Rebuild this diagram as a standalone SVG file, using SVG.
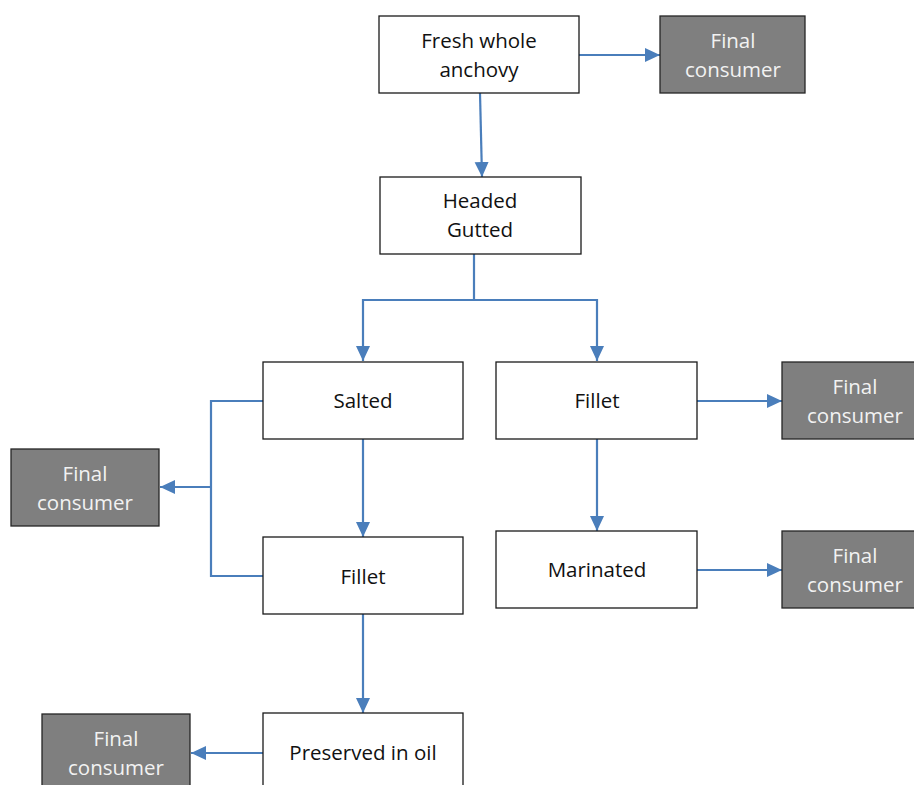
<svg xmlns="http://www.w3.org/2000/svg" width="914" height="785" viewBox="0 0 914 785">
<style>
.box{fill:#ffffff;stroke:#1a1a1a;stroke-width:1.3}
.fc{fill:#7f7f7f;stroke:#262626;stroke-width:1.3}
.t{font-family:"Open Sans","Liberation Sans",sans-serif;font-size:20.5px;fill:#111;text-anchor:middle}
.tw{font-family:"Open Sans","Liberation Sans",sans-serif;font-size:20.5px;fill:#f2f2f2;text-anchor:middle}
.c{fill:none;stroke:#4a7ebb;stroke-width:2.2}
</style>
<defs>
<marker id="ah" markerUnits="userSpaceOnUse" markerWidth="16" markerHeight="16" viewBox="0 0 16 16" refX="15" refY="8" orient="auto">
<path d="M0,1 L15,8 L0,15 Z" fill="#4a7ebb"/>
</marker>
</defs>
<rect width="914" height="785" fill="#ffffff"/>
<g id="connectors">
<line class="c" x1="579" y1="55" x2="660" y2="55" marker-end="url(#ah)"/>
<line class="c" x1="480" y1="93" x2="482" y2="177" marker-end="url(#ah)"/>
<polyline class="c" points="474,254 474,300 363,300 363,361" marker-end="url(#ah)"/>
<polyline class="c" points="474,300 597,300 597,361" marker-end="url(#ah)"/>
<line class="c" x1="363" y1="439" x2="363" y2="537" marker-end="url(#ah)"/>
<polyline class="c" points="263,401 211,401 211,576 263,576"/>
<line class="c" x1="211" y1="487" x2="160" y2="487" marker-end="url(#ah)"/>
<line class="c" x1="697" y1="401" x2="782" y2="401" marker-end="url(#ah)"/>
<line class="c" x1="597" y1="439" x2="597" y2="531" marker-end="url(#ah)"/>
<line class="c" x1="697" y1="570" x2="782" y2="570" marker-end="url(#ah)"/>
<line class="c" x1="363" y1="614" x2="363" y2="713" marker-end="url(#ah)"/>
<line class="c" x1="263" y1="753" x2="191" y2="753" marker-end="url(#ah)"/>
</g>
<g id="fresh">
<rect class="box" x="379" y="16" width="200" height="77"/>
<text class="t" x="479" y="48">Fresh whole</text>
<text class="t" x="479" y="77">anchovy</text>
</g>
<g id="fc1">
<rect class="fc" x="660" y="16" width="145" height="77"/>
<text class="tw" x="733" y="48">Final</text>
<text class="tw" x="733" y="77">consumer</text>
</g>
<g id="headed">
<rect class="box" x="380" y="177" width="201" height="77"/>
<text class="t" x="480" y="208">Headed</text>
<text class="t" x="480" y="237">Gutted</text>
</g>
<g id="salted">
<rect class="box" x="263" y="362" width="200" height="77"/>
<text class="t" x="363" y="408">Salted</text>
</g>
<g id="fillet1">
<rect class="box" x="496" y="362" width="201" height="77"/>
<text class="t" x="597" y="408">Fillet</text>
</g>
<g id="fc2">
<rect class="fc" x="782" y="362" width="145" height="77"/>
<text class="tw" x="855" y="394">Final</text>
<text class="tw" x="855" y="423">consumer</text>
</g>
<g id="fc3">
<rect class="fc" x="11" y="449" width="148" height="77"/>
<text class="tw" x="85" y="481">Final</text>
<text class="tw" x="85" y="510">consumer</text>
</g>
<g id="fillet2">
<rect class="box" x="263" y="537" width="200" height="77"/>
<text class="t" x="363" y="584">Fillet</text>
</g>
<g id="marinated">
<rect class="box" x="496" y="531" width="201" height="77"/>
<text class="t" x="597" y="577">Marinated</text>
</g>
<g id="fc4">
<rect class="fc" x="782" y="531" width="145" height="77"/>
<text class="tw" x="855" y="563">Final</text>
<text class="tw" x="855" y="592">consumer</text>
</g>
<g id="preserved">
<rect class="box" x="263" y="713" width="200" height="90"/>
<text class="t" x="363" y="760">Preserved in oil</text>
</g>
<g id="fc5">
<rect class="fc" x="42" y="714" width="148" height="90"/>
<text class="tw" x="116" y="746">Final</text>
<text class="tw" x="116" y="775">consumer</text>
</g>
</svg>
